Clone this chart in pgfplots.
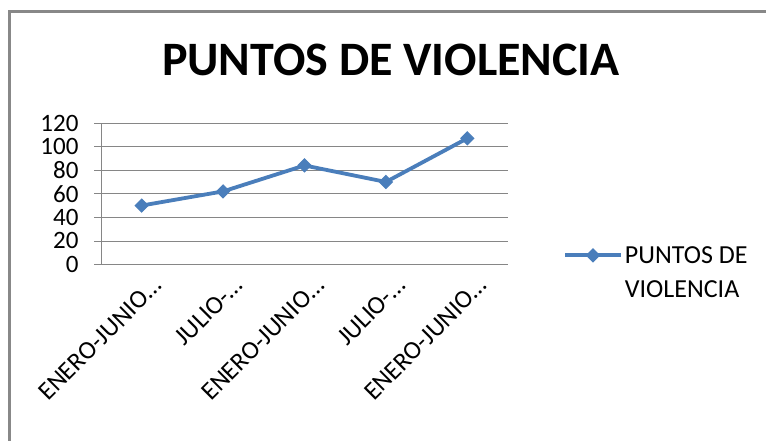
\documentclass[border=0pt]{standalone}
\usepackage{fontspec}
\setmainfont{Carlito}
\usepackage{pgfplots}
\pgfplotsset{compat=1.18}
\definecolor{serieblue}{RGB}{74,126,187}
\definecolor{gridgray}{RGB}{134,134,134}
\definecolor{framegray}{RGB}{136,136,136}
\begin{document}
\begin{tikzpicture}
\useasboundingbox (0,0) rectangle (766bp,441bp);
\fill[white] (0,0) rectangle (766bp,441bp);
\draw[framegray, line width=3bp] (9.5bp,0bp) -- (9.5bp,429.5bp) -- (766bp,429.5bp);
\begin{axis}[
  at={(101bp,176.5bp)}, anchor=south west,
  scale only axis,
  width=407bp, height=141.5bp,
  xmin=0.5, xmax=5.5,
  ymin=0, ymax=120,
  ytick={0,20,...,120},
  xtick={1,2,3,4,5},
  xticklabels={ENERO-JUNIO…,JULIO-…,ENERO-JUNIO…,JULIO-…,ENERO-JUNIO…},
  major x tick style={draw=none},
  extra x ticks={0.5,1.5,2.5,3.5,4.5,5.5},
  extra x tick labels={},
  extra x tick style={major tick length=6bp, tick align=outside, grid=none},
  axis lines=left,
  axis line style={-, draw=gridgray, line width=0.8bp},
  tick style={draw=gridgray, line width=0.8bp},
  ymajorgrids,
  grid style={draw=gridgray, line width=0.8bp},
  tick align=outside,
  major tick length=7bp,
  /pgf/number format/assume math mode=true,
  yticklabel style={font=\fontsize{25bp}{25bp}\selectfont, text=black, xshift=-12bp},
  xticklabel style={font=\fontsize{25.5bp}{25.5bp}\selectfont, text=black, rotate=45, anchor=east, xshift=7bp, yshift=-18bp},
  title={PUNTOS DE VIOLENCIA},
  title style={at={(0.7125,1.29)}, anchor=base, font=\fontsize{48bp}{50bp}\selectfont\bfseries},
  legend style={at={(1.135,0.145)}, anchor=north west, draw=none, fill=none,
    font=\fontsize{26bp}{34bp}\selectfont, cells={align=left}, inner sep=0pt},
  legend image code/.code={\draw[mark repeat=2,mark phase=2,yshift=17bp,#1] plot coordinates {(0bp,0bp) (28bp,0bp) (56bp,0bp)};},
  clip=false,
]
\addplot[serieblue, line width=3.8bp, mark=square*, mark size=4.6bp,
  mark options={rotate=45, fill=serieblue, draw=serieblue, line width=1bp}]
  coordinates {(1,50) (2,62) (3,84) (4,70) (5,107)};
\addlegendentry{PUNTOS DE\\VIOLENCIA}
\end{axis}
\end{tikzpicture}
\end{document}
